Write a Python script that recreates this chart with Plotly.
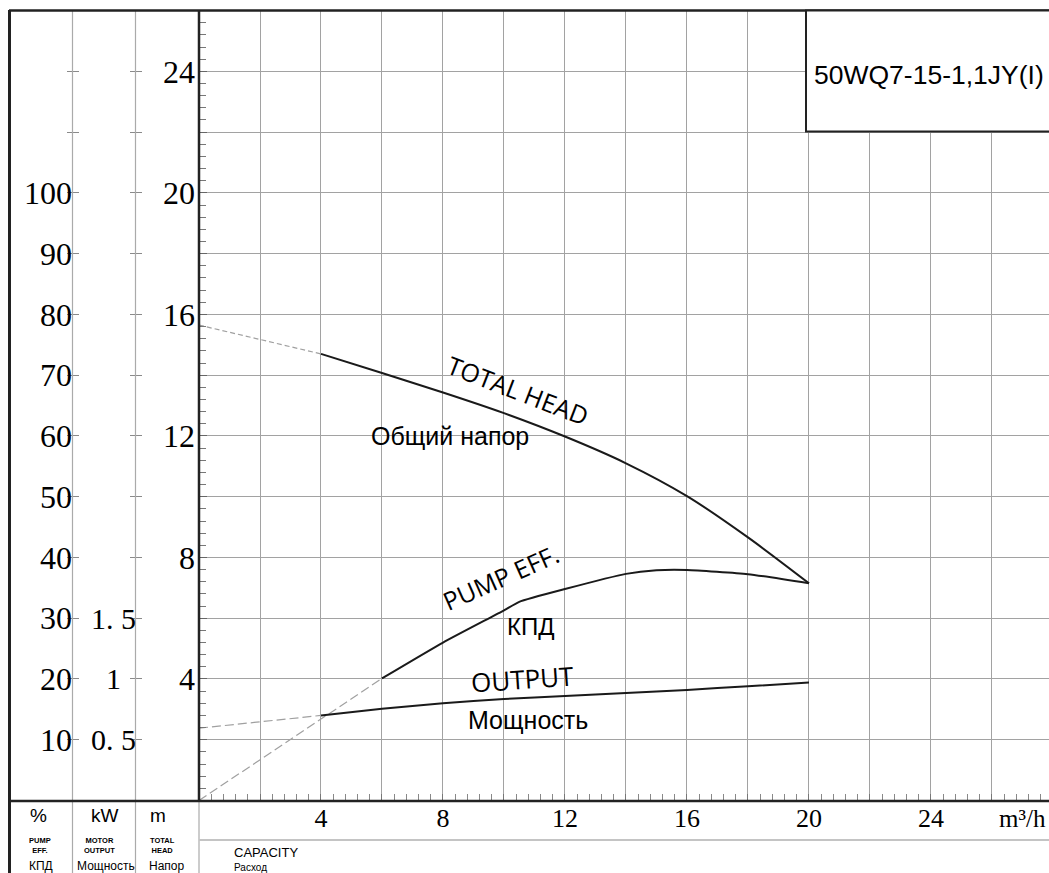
import plotly.graph_objects as go

# ---------------- data ----------------
flow_head = [4, 6, 8, 10, 12, 14, 16, 18, 20]
head_m = [14.7, 14.07, 13.43, 12.75, 11.98, 11.1, 10.02, 8.66, 7.15]
flow_head_ext = [0, 4]
head_ext = [15.65, 14.7]

flow_eff = [6, 8, 10, 10.5, 12, 14, 15, 16, 18, 20]
eff_pct = [20.1, 26.0, 31.3, 32.7, 34.8, 37.3, 37.9, 37.95, 37.25, 35.75]
flow_eff_ext = [0, 6]
eff_ext = [0.0, 20.1]

flow_out = [4, 6, 8, 10, 12, 14, 16, 18, 20]
power_kw = [0.70, 0.755, 0.80, 0.835, 0.86, 0.885, 0.91, 0.94, 0.97]
flow_out_ext = [0, 4]
power_ext = [0.595, 0.70]

x_ticks = list(range(0, 29, 2))
x_ticktext = [str(v) if v % 4 == 0 and 0 < v <= 24 else "" for v in x_ticks]
m_ticks = list(range(0, 27, 2))
m_ticktext = [str(v) if v % 4 == 0 and 0 < v <= 24 else "" for v in m_ticks]
pct_ticks = list(range(10, 121, 10))
pct_ticktext = [str(v) if v <= 100 else "" for v in pct_ticks]
kw_ticks = [0.5 * i for i in range(1, 13)]
kw_label_vals = [1.5, 1.0, 0.5]
kw_label_text = ["1. 5", "1", "0. 5"]

model_name = "50WQ7-15-1,1JY(I)"

# ---------------- geometry helpers ----------------
W, H = 1049, 873
def X(px):
    return px / W
def Y(py):
    return 1 - py / H

Y_TOP_M = 26.02
X_MAX = 27.87
ydom = [Y(800.5), Y(10)]

SERIF = "Liberation Serif"
SANS = "Liberation Sans"
LBL = "Open Sans"
INK = "#1a1a1a"
GRID = "#a2a2a2"
DASH = "#a0a0a0"

fig = go.Figure()

# dashed extensions
fig.add_trace(go.Scatter(x=flow_head_ext, y=head_ext, mode="lines",
                         line=dict(color=DASH, width=1.2, dash="5px,3px"),
                         yaxis="y", hoverinfo="skip", showlegend=False))
fig.add_trace(go.Scatter(x=flow_eff_ext, y=eff_ext, mode="lines",
                         line=dict(color=DASH, width=1.2, dash="9px,4px"),
                         yaxis="y2", hoverinfo="skip", showlegend=False))
fig.add_trace(go.Scatter(x=flow_out_ext, y=power_ext, mode="lines",
                         line=dict(color=DASH, width=1.2, dash="9px,4px"),
                         yaxis="y3", hoverinfo="skip", showlegend=False))

# main curves
fig.add_trace(go.Scatter(x=flow_head, y=head_m, mode="lines",
                         line=dict(color=INK, width=2, shape="spline", smoothing=0.8),
                         yaxis="y", name="TOTAL HEAD", showlegend=False))
fig.add_trace(go.Scatter(x=flow_eff, y=eff_pct, mode="lines",
                         line=dict(color=INK, width=2, shape="spline", smoothing=0.5),
                         yaxis="y2", name="PUMP EFF.", showlegend=False))
fig.add_trace(go.Scatter(x=flow_out, y=power_kw, mode="lines",
                         line=dict(color=INK, width=2, shape="spline", smoothing=0.6),
                         yaxis="y3", name="OUTPUT", showlegend=False))

shapes = []
def hline(py, x0, x1, color, width):
    shapes.append(dict(type="line", xref="paper", yref="paper",
                       x0=X(x0), x1=X(x1), y0=Y(py), y1=Y(py),
                       line=dict(color=color, width=width)))
def vline(px, y0, y1, color, width):
    shapes.append(dict(type="line", xref="paper", yref="paper",
                       x0=X(px), x1=X(px), y0=Y(y0), y1=Y(y1),
                       line=dict(color=color, width=width)))

vline(72.5, 10, 873, "#aaaaaa", 1.2)
vline(135.5, 10, 873, "#aaaaaa", 1.2)
vline(199, 801, 873, "#aaaaaa", 1.2)
hline(840, 199, 1049, "#c4c4c4", 2)
hline(801, 9, 1049, "#222222", 2.5)
hline(10.5, 9, 1049, "#222222", 2.5)
vline(9.5, 10, 873, "#222222", 3)
vline(199, 10, 801, "#222222", 2.5)
shapes.append(dict(type="rect", xref="paper", yref="paper",
                   x0=X(806), x1=X(1055), y0=Y(131.5), y1=Y(10.5),
                   line=dict(color="#222222", width=2), fillcolor="white", layer="above"))

ann = []
def txt(text, x, y, size, family=SANS, xanchor="center", yanchor="middle",
        xref="paper", yref="paper", angle=0, color="black"):
    ann.append(dict(text=text, x=x, y=y, xref=xref, yref=yref, showarrow=False,
                    xanchor=xanchor, yanchor=yanchor, textangle=angle,
                    font=dict(family=family, size=size, color=color)))

# model box
txt(model_name, X(812), Y(75), 26.5, SANS, xanchor="left")

# kW labels
for v, t in zip(kw_label_vals, kw_label_text):
    txt(t, X(113), v, 30, SERIF, yref="y3")

# curve labels
txt("TOTAL HEAD", 10.46, 13.52, 25, LBL, xref="x", yref="y", angle=21)
txt("Общий напор", 8.23, 11.99, 25, SANS, xref="x", yref="y")
txt("PUMP EFF.", 9.9, 7.35, 25, LBL, xref="x", yref="y", angle=-24)
txt("КПД", 10.88, 5.72, 24, SANS, xref="x", yref="y")
txt("OUTPUT", 10.62, 4.0, 26, LBL, xref="x", yref="y", angle=-4)
txt("Мощность", 10.8, 2.65, 25, SANS, xref="x", yref="y")

# unit label on x axis
txt("m³/h", X(1048), Y(818), 25, SERIF, xanchor="right")

# bottom-left legend panel
txt("%", X(38.5), Y(815.5), 19)
txt("kW", X(105), Y(815.5), 19)
txt("m", X(158), Y(815.5), 19)
txt("<b>PUMP<br>EFF.</b>", X(27), Y(834), 7.5, xanchor="left", yanchor="top")
txt("<b>MOTOR<br>OUTPUT</b>", X(82), Y(834), 7.5, xanchor="left", yanchor="top")
txt("<b>TOTAL<br>HEAD</b>", X(148), Y(834), 7.5, xanchor="left", yanchor="top")
txt("КПД", X(27), Y(866), 12, xanchor="left")
txt("Мощность", X(75), Y(866), 12, xanchor="left")
txt("Напор", X(147), Y(866), 12, xanchor="left")
txt("CAPACITY", X(232), Y(852.5), 13, xanchor="left")
txt("Расход", X(232), Y(867), 10, xanchor="left")

fig.update_layout(
    width=W, height=H, autosize=False,
    margin=dict(l=0, r=0, t=0, b=0, pad=0),
    paper_bgcolor="white", plot_bgcolor="white",
    showlegend=False,
    shapes=shapes, annotations=ann,
    xaxis=dict(domain=[X(199), 1], range=[0, X_MAX], anchor="y",
               tickvals=x_ticks, ticktext=x_ticktext,
               ticks="inside", ticklen=7, tickcolor="#777777",
               showgrid=True, gridcolor=GRID, gridwidth=1,
               zeroline=False, showline=False,
               minor=dict(dtick=0.4, tick0=0, ticks="inside", ticklen=7,
                          tickcolor="#888888", showgrid=False),
               tickfont=dict(family=SERIF, size=26, color="black"),
               ticklabelstandoff=-1),
    yaxis=dict(domain=ydom, range=[0, Y_TOP_M], anchor="x",
               tickvals=m_ticks, ticktext=m_ticktext,
               ticks="inside", ticklen=8, tickcolor="#666666",
               showgrid=True, gridcolor=GRID, gridwidth=1,
               zeroline=False, showline=False,
               minor=dict(dtick=0.4, tick0=0, ticks="inside", ticklen=7,
                          tickcolor="#777777", showgrid=False),
               tickfont=dict(family=SERIF, size=32, color="black"),
               ticklabelstandoff=3),
    yaxis2=dict(domain=ydom, range=[0, Y_TOP_M * 5], overlaying="y",
                anchor="free", position=X(78.5), side="left",
                tickvals=pct_ticks, ticktext=pct_ticktext,
                ticks="outside", ticklen=12, tickcolor="#8a8a8a",
                showgrid=False, zeroline=False, showline=False,
                tickfont=dict(family=SERIF, size=32, color="black"),
                ticklabelstandoff=-12),
    yaxis3=dict(domain=ydom, range=[0, Y_TOP_M / 4], overlaying="y",
                anchor="free", position=X(141.5), side="left",
                tickvals=kw_ticks, showticklabels=False,
                ticks="outside", ticklen=12, tickcolor="#8a8a8a",
                showgrid=False, zeroline=False, showline=False),
)

fig.write_html("out.html", post_script="document.body.style.margin='0';",
               config={"responsive": False, "displayModeBar": False})
